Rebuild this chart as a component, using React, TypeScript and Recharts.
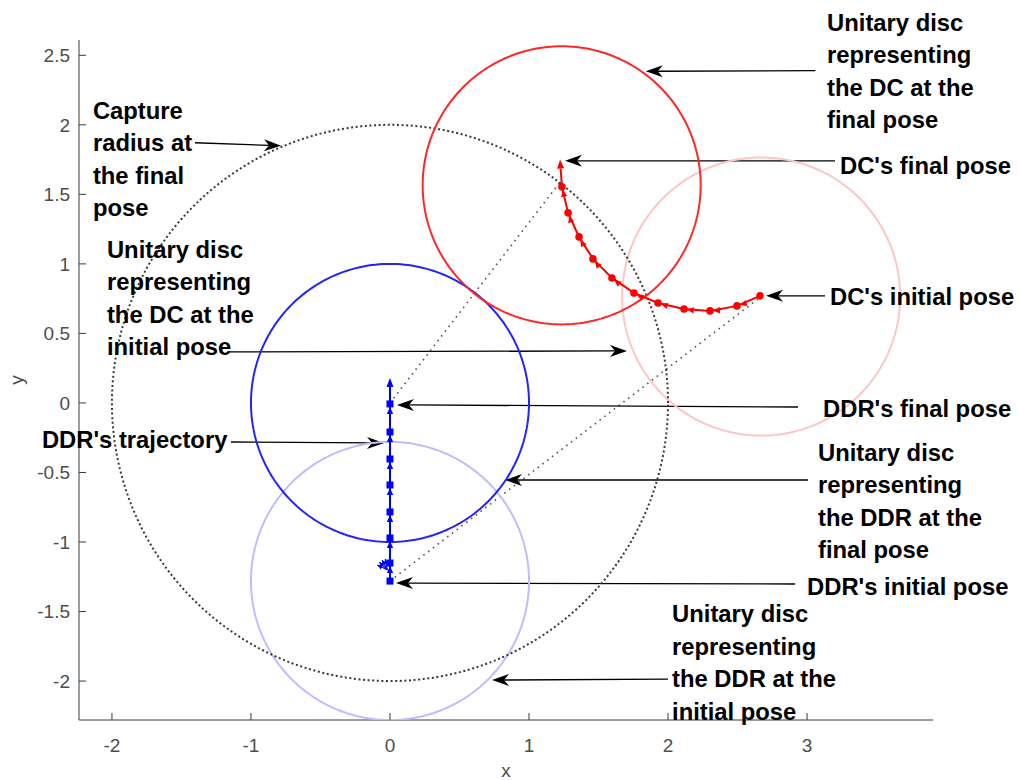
import React from 'react';
import { ScatterChart, Scatter, XAxis, YAxis, ReferenceLine, ReferenceDot } from 'recharts';

// ---------- axes ----------
const xDomain: [number, number] = [-2.237, 3.906];
const yDomain: [number, number] = [-2.28, 2.61];
const xTicks = [-2, -1, 0, 1, 2, 3];
const yTicks = [-2, -1.5, -1, -0.5, 0, 0.5, 1, 1.5, 2, 2.5];

// ---------- poses ----------
const ddrInitialPose = { x: 0, y: -1.28 };
const ddrFinalPose = { x: 0, y: 0 };
const dcInitialPose = { x: 2.67, y: 0.765 };
const dcFinalPose = { x: 1.235, y: 1.565 };
const discRadius = 1;
const captureRadius = 2;

// ---------- trajectories ----------
const ddrPathX = [0, 0, 0, 0, 0, 0, 0, 0];
const ddrPathY = [-1.281, -1.151, -0.971, -0.784, -0.59, -0.403, -0.209, -0.007];
const ddrFinalHeadingTip = { x: 0, y: 0.18 };
// in-place turning of the DDR right after the start (heading, degrees)
const ddrStartTurnHeadings = [100, 118, 136, 154];
const ddrStartTurnAt = { x: -0.02, y: -1.2 };

const dcPathX = [2.662, 2.496, 2.302, 2.115, 1.928, 1.755, 1.597, 1.46, 1.36, 1.281, 1.237];
const dcPathY = [0.77, 0.698, 0.662, 0.676, 0.719, 0.791, 0.899, 1.036, 1.194, 1.367, 1.554];
const dcFinalHeadingTip = { x: 1.223, y: 1.75 };

// ---------- annotations ----------
const annotations = [
  { lines: ['Unitary disc', 'representing', 'the DC at the', 'final pose'], at: [3.144, 2.676], tail: [3.06, 2.39], tip: [1.84, 2.385] },
  { lines: ["DC's final pose"], at: [3.237, 1.647], tail: [3.201, 1.741], tip: [1.259, 1.741] },
  { lines: ['Capture', 'radius at', 'the final', 'pose'], at: [-2.137, 2.043], tail: [-1.403, 1.871], tip: [-0.784, 1.849] },
  { lines: ['Unitary disc', 'representing', 'the DC at the', 'initial pose'], at: [-2.036, 1.043], tail: [-1.165, 0.367], tip: [1.705, 0.374] },
  { lines: ["DC's initial pose"], at: [3.165, 0.705], tail: [3.129, 0.77], tip: [2.705, 0.77] },
  { lines: ["DDR's final pose"], at: [3.115, -0.101], tail: [2.935, -0.029], tip: [0.05, -0.014] },
  { lines: ["DDR's trajectory"], at: [-2.504, -0.324], tail: [-1.144, -0.281], tip: [-0.043, -0.288] },
  { lines: ['Unitary disc', 'representing', 'the DDR at the', 'final pose'], at: [3.079, -0.417], tail: [3.007, -0.554], tip: [0.827, -0.554] },
  { lines: ["DDR's initial pose"], at: [3.0, -1.381], tail: [2.914, -1.302], tip: [0.043, -1.295] },
  { lines: ['Unitary disc', 'representing', 'the DDR at the', 'initial pose'], at: [2.029, -1.576], tail: [2.0, -1.986], tip: [0.734, -1.993] },
];

// ---------- helpers ----------
type Pt = { x: number; y: number; heading: number; first?: boolean };

// outline of a disc of radius r around (cx, cy)
function ring(cx: number, cy: number, r: number, n = 240): Pt[] {
  const out: Pt[] = [];
  for (let i = 0; i <= n; i++) {
    const t = (i / n) * Math.PI * 2;
    out.push({ x: cx + r * Math.cos(t), y: cy + r * Math.sin(t), heading: 0 });
  }
  return out;
}

// pair sampled positions with the direction of travel
function withHeadings(xs: number[], ys: number[]): Pt[] {
  return xs.map((x, i) => {
    const a = Math.max(0, i - 1);
    const b = Math.min(xs.length - 1, i + 1);
    return { x, y: ys[i], heading: Math.atan2(ys[b] - ys[a], xs[b] - xs[a]), first: i === 0 };
  });
}

const FONT = "'Liberation Sans', Arial, Helvetica, sans-serif";
const AXIS_COLOR = '#3a3a3a';
const TICK_COLOR = '#4d4d4d';

const Empty = () => <g />;

function headingTriangle(cx: number, cy: number, h: number, back: number, len: number, half: number) {
  const ux = Math.cos(h);
  const uy = -Math.sin(h);
  const tx = cx - ux * back;
  const ty = cy - uy * back;
  const bx = tx - ux * len;
  const by = ty - uy * len;
  const px = -uy;
  const py = ux;
  return `${tx},${ty} ${bx + px * half},${by + py * half} ${bx - px * half},${by - py * half}`;
}

const DdrMarker = (p: any) => {
  const { cx, cy, payload } = p;
  if (cx == null || cy == null) return <g />;
  return (
    <g>
      <rect x={cx - 3.5} y={cy - 3.5} width={7} height={7} fill="#0000ff" />
      {!payload.first && <polygon points={headingTriangle(cx, cy, payload.heading, 3, 7, 3.2)} fill="#0000ff" />}
    </g>
  );
};

const DcMarker = (p: any) => {
  const { cx, cy, payload } = p;
  if (cx == null || cy == null) return <g />;
  return (
    <g>
      <circle cx={cx} cy={cy} r={3.8} fill="#ff0000" />
      {!payload.first && <polygon points={headingTriangle(cx, cy, payload.heading, 3, 7, 3.2)} fill="#ff0000" />}
    </g>
  );
};

const TurnArrow = (p: any) => {
  const { cx, cy, payload } = p;
  if (cx == null || cy == null) return <g />;
  const h = (payload.heading * Math.PI) / 180;
  const ex = cx + Math.cos(h) * 11;
  const ey = cy - Math.sin(h) * 11;
  return (
    <g>
      <line x1={cx} y1={cy} x2={ex} y2={ey} stroke="#0000ff" strokeWidth={1.2} />
      <polygon points={headingTriangle(ex, ey, h, 0, 5, 2.5)} fill="#0000ff" />
    </g>
  );
};

const makeArrow = (color: string, width: number, head: number, half: number, notch: number) => (p: any) => {
  const { x1, y1, x2, y2 } = p;
  if ([x1, y1, x2, y2].some((v) => v == null || Number.isNaN(v))) return <g />;
  const dx = x2 - x1;
  const dy = y2 - y1;
  const L = Math.hypot(dx, dy) || 1;
  const ux = dx / L;
  const uy = dy / L;
  const px = -uy;
  const py = ux;
  const bx = x2 - ux * head;
  const by = y2 - uy * head;
  const nx = x2 - ux * notch;
  const ny = y2 - uy * notch;
  return (
    <g>
      <line x1={x1} y1={y1} x2={nx} y2={ny} stroke={color} strokeWidth={width} />
      <polygon
        points={`${x2},${y2} ${bx + px * half},${by + py * half} ${nx},${ny} ${bx - px * half},${by - py * half}`}
        fill={color}
      />
    </g>
  );
};

const annotationArrow = makeArrow('#000', 1.3, 17, 6, 12);
const blueHeadArrow = makeArrow('#0000ff', 2, 9, 3.5, 9);
const redHeadArrow = makeArrow('#ff0000', 2, 9, 3.5, 9);

const makeLabel = (lines: string[]) => (p: any) => {
  const { cx, cy } = p;
  if (cx == null || cy == null) return <g />;
  return (
    <text x={cx} y={cy} fontFamily={FONT} fontWeight="bold" fontSize={23.8} fill="#000">
      {lines.map((l, i) => (
        <tspan key={i} x={cx} dy={i === 0 ? 0 : 32.5}>
          {l}
        </tspan>
      ))}
    </text>
  );
};

const YTick = (p: any) => {
  const { x, y, payload } = p;
  return (
    <g>
      <line x1={x} y1={y} x2={x + 7} y2={y} stroke={AXIS_COLOR} strokeWidth={1} />
      <text x={x - 9} y={y} dy="0.36em" textAnchor="end" fontFamily={FONT} fontSize={19} fill={TICK_COLOR}>
        {payload.value}
      </text>
    </g>
  );
};

const XTick = (p: any) => {
  const { x, y, payload } = p;
  return (
    <g>
      <line x1={x} y1={y} x2={x} y2={y - 7} stroke={AXIS_COLOR} strokeWidth={1} />
      <text x={x} y={y + 32} textAnchor="middle" fontFamily={FONT} fontSize={19} fill={TICK_COLOR}>
        {payload.value}
      </text>
    </g>
  );
};

const XTitle = (p: any) => {
  const vb = p.viewBox || {};
  return (
    <text x={vb.x + vb.width / 2} y={vb.y + 57} textAnchor="middle" fontFamily={FONT} fontSize={19} fill={TICK_COLOR}>
      x
    </text>
  );
};

const YTitle = (p: any) => {
  const vb = p.viewBox || {};
  const cx = 23;
  const cy = vb.y + vb.height / 2;
  return (
    <text x={cx} y={cy} textAnchor="middle" fontFamily={FONT} fontSize={19} fill={TICK_COLOR} transform={`rotate(-90 ${cx} ${cy})`}>
      y
    </text>
  );
};

const captureRing = ring(ddrFinalPose.x, ddrFinalPose.y, captureRadius, 360);
const ddrInitialDisc = ring(ddrInitialPose.x, ddrInitialPose.y, discRadius);
const ddrFinalDisc = ring(ddrFinalPose.x, ddrFinalPose.y, discRadius);
const dcInitialDisc = ring(dcInitialPose.x, dcInitialPose.y, discRadius);
const dcFinalDisc = ring(dcFinalPose.x, dcFinalPose.y, discRadius);
const ddrPath = withHeadings(ddrPathX, ddrPathY);
const dcPath = withHeadings(dcPathX, dcPathY);
const ddrTurns = ddrStartTurnHeadings.map((h) => ({ x: ddrStartTurnAt.x, y: ddrStartTurnAt.y, heading: h }));

export default function App() {
  return (
    <div style={{ position: 'absolute', left: 0, top: 0, background: '#fff' }}>
      <ScatterChart width={1019} height={780} margin={{ top: 40, right: 86, bottom: 0, left: 0 }}>
        <XAxis
          type="number"
          dataKey="x"
          domain={xDomain}
          ticks={xTicks}
          allowDataOverflow
          height={60}
          tickSize={0}
          tickMargin={0}
          tickLine={false}
          tick={<XTick />}
          axisLine={{ stroke: AXIS_COLOR, strokeWidth: 1 }}
          label={<XTitle />}
        />
        <YAxis
          type="number"
          dataKey="y"
          domain={yDomain}
          ticks={yTicks}
          allowDataOverflow
          width={79}
          tickSize={0}
          tickMargin={0}
          tickLine={false}
          tick={<YTick />}
          axisLine={{ stroke: AXIS_COLOR, strokeWidth: 1 }}
          label={<YTitle />}
        />

        <Scatter data={ddrInitialDisc} line={{ stroke: '#bdbdff', strokeWidth: 2 }} shape={Empty} isAnimationActive={false} />
        <Scatter data={dcInitialDisc} line={{ stroke: '#ffc4c4', strokeWidth: 2 }} shape={Empty} isAnimationActive={false} />
        <Scatter data={captureRing} line={{ stroke: '#383838', strokeWidth: 2, strokeDasharray: '2 2.6' }} shape={Empty} isAnimationActive={false} />
        <Scatter data={ddrFinalDisc} line={{ stroke: '#2323ff', strokeWidth: 2 }} shape={Empty} isAnimationActive={false} />
        <Scatter data={dcFinalDisc} line={{ stroke: '#ff2626', strokeWidth: 2 }} shape={Empty} isAnimationActive={false} />

        <ReferenceLine
          segment={[ddrFinalPose, { x: dcPathX[dcPathX.length - 1], y: dcFinalPose.y + 0.04 }]}
          stroke="#555"
          strokeWidth={1.6}
          strokeDasharray="1.6 4.4"
          ifOverflow="visible"
        />
        <ReferenceLine
          segment={[ddrInitialPose, dcInitialPose]}
          stroke="#555"
          strokeWidth={1.6}
          strokeDasharray="1.6 4.4"
          ifOverflow="visible"
        />

        <Scatter data={ddrPath} line={{ stroke: '#0000ff', strokeWidth: 2 }} shape={DdrMarker} isAnimationActive={false} />
        <Scatter data={ddrTurns} shape={TurnArrow} isAnimationActive={false} />
        <ReferenceLine
          segment={[{ x: ddrPathX[ddrPathX.length - 1], y: ddrPathY[ddrPathY.length - 1] }, ddrFinalHeadingTip]}
          shape={blueHeadArrow}
          ifOverflow="visible"
        />
        <Scatter data={dcPath} line={{ stroke: '#ff0000', strokeWidth: 2 }} shape={DcMarker} isAnimationActive={false} />
        <ReferenceLine
          segment={[{ x: dcPathX[dcPathX.length - 1], y: dcPathY[dcPathY.length - 1] }, dcFinalHeadingTip]}
          shape={redHeadArrow}
          ifOverflow="visible"
        />

        {annotations.map((a, i) => (
          <ReferenceLine
            key={`arrow-${i}`}
            segment={[{ x: a.tail[0], y: a.tail[1] }, { x: a.tip[0], y: a.tip[1] }]}
            shape={annotationArrow}
            ifOverflow="visible"
          />
        ))}
        {annotations.map((a, i) => (
          <ReferenceDot key={`text-${i}`} x={a.at[0]} y={a.at[1]} r={0} shape={makeLabel(a.lines)} ifOverflow="visible" />
        ))}
      </ScatterChart>
    </div>
  );
}
